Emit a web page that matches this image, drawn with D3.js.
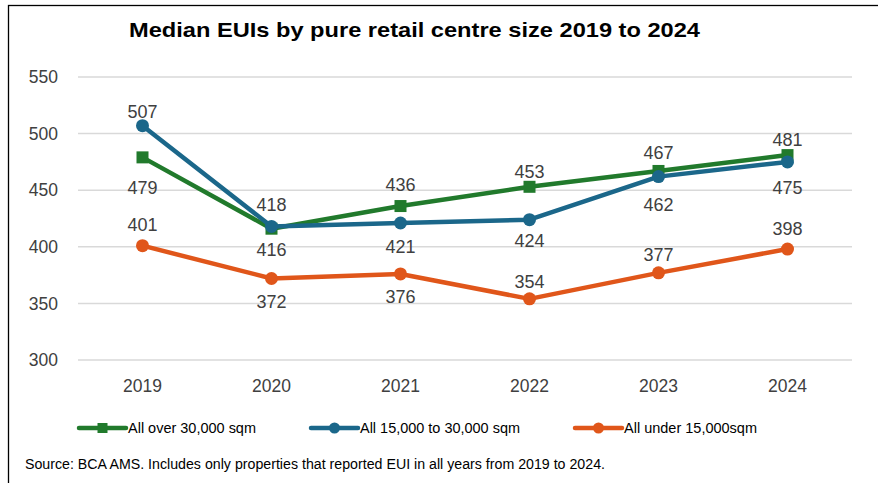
<!DOCTYPE html>
<html>
<head>
<meta charset="utf-8">
<script src="https://cdn.jsdelivr.net/npm/d3@7"></script>
<style>
  html, body { margin: 0; padding: 0; background: #fff; }
  svg { display: block; }
</style>
</head>
<body>
<svg id="chart" width="878" height="483"></svg>
<script>
// ---- data ----
const years = ["2019", "2020", "2021", "2022", "2023", "2024"];
const over30k = [479, 416, 436, 453, 467, 481];
const mid15to30k = [507, 418, 421, 424, 462, 475];
const under15k = [401, 372, 376, 354, 377, 398];
const seriesNames = ["All over 30,000 sqm", "All 15,000 to 30,000 sqm", "All under 15,000sqm"];
const yTicks = [300, 350, 400, 450, 500, 550];
const titleText = "Median EUIs by pure retail centre size 2019 to 2024";
const sourceText = "Source: BCA AMS.  Includes only properties that reported EUI in all years from 2019 to 2024.";

// ---- layout (label offsets: text centre relative to point, px) ----
const labelDy = [
  [30, 21, -21, -15, -18, -15],
  [-14, -22, 24, 21, 28, 26],
  [-21, 23, 23, -17, -18, -20]
];

const svg = d3.select("#chart");
const W = 878, H = 483;
const colors = ["#217a2c", "#1b678a", "#e0561a"];
const shapes = ["square", "circle", "circle"];
const series = [over30k, mid15to30k, under15k];

// frame
svg.append("rect").attr("x", 8.5).attr("y", 5.5).attr("width", W).attr("height", H)
  .attr("fill", "none").attr("stroke", "#000").attr("stroke-width", 1.3);

const x = d3.scaleBand().domain(years).range([78, 852]);
const y = d3.scaleLinear().domain([300, 550]).range([360, 77]);

// gridlines
svg.append("g").selectAll("line").data(yTicks).join("line")
  .attr("x1", 78).attr("x2", 852)
  .attr("y1", d => y(d)).attr("y2", d => y(d))
  .attr("stroke", "#d9d9d9").attr("stroke-width", 1.5);

// y axis
const yAxis = svg.append("g").attr("transform", "translate(60,0)")
  .call(d3.axisLeft(y).tickValues(yTicks).tickSize(0).tickPadding(2));
yAxis.select(".domain").remove();
yAxis.selectAll("text").attr("font-family", "Liberation Sans, Arial, sans-serif")
  .attr("font-size", 17.5).attr("fill", "#404040");

// x axis
const xAxis = svg.append("g").attr("transform", "translate(0,377)")
  .call(d3.axisBottom(x).tickSize(0).tickPadding(3));
xAxis.select(".domain").remove();
xAxis.selectAll("text").attr("font-family", "Liberation Sans, Arial, sans-serif")
  .attr("font-size", 17.5).attr("fill", "#404040");

// title
svg.append("text").attr("x", 129).attr("y", 37)
  .attr("font-family", "Liberation Sans Narrow, Liberation Sans, Arial, sans-serif")
  .attr("font-weight", "bold").attr("font-size", 21).attr("fill", "#000")
  .attr("textLength", 571).attr("lengthAdjust", "spacingAndGlyphs")
  .text(titleText);

const cx = d => x(d) + x.bandwidth() / 2;
const line = d3.line().x((d, i) => cx(years[i])).y(d => y(d));

function drawMarker(g, shape, color, px, py, size) {
  if (shape === "square") {
    g.append("rect").attr("x", px - size).attr("y", py - size)
      .attr("width", size * 2).attr("height", size * 2).attr("fill", color);
  } else {
    g.append("circle").attr("cx", px).attr("cy", py).attr("r", size + 0.5).attr("fill", color);
  }
}

series.forEach((vals, si) => {
  const g = svg.append("g");
  g.append("path").datum(vals).attr("d", line)
    .attr("fill", "none").attr("stroke", colors[si]).attr("stroke-width", 4.5)
    .attr("stroke-linejoin", "round").attr("stroke-linecap", "round");
  vals.forEach((v, i) => drawMarker(g, shapes[si], colors[si], cx(years[i]), y(v), 6));
});

// data labels
series.forEach((vals, si) => {
  svg.append("g").selectAll("text").data(vals).join("text")
    .attr("x", (d, i) => cx(years[i]))
    .attr("y", (d, i) => y(d) + labelDy[si][i])
    .attr("dy", "0.35em")
    .attr("text-anchor", "middle")
    .attr("font-family", "Liberation Sans, Arial, sans-serif")
    .attr("font-size", 18).attr("fill", "#404040")
    .text(d => d);
});

// legend
const legendX = [79, 311, 575];
const legendTextW = [128, 160, 133];
const ly = 428;
seriesNames.forEach((name, si) => {
  const g = svg.append("g");
  g.append("line").attr("x1", legendX[si]).attr("x2", legendX[si] + 47)
    .attr("y1", ly).attr("y2", ly)
    .attr("stroke", colors[si]).attr("stroke-width", 4.5).attr("stroke-linecap", "round");
  drawMarker(g, shapes[si], colors[si], legendX[si] + 23.5, ly, 5);
  g.append("text").attr("x", legendX[si] + 49).attr("y", ly).attr("dy", "0.35em")
    .attr("font-family", "Liberation Sans Narrow, Liberation Sans, Arial, sans-serif")
    .attr("font-size", 15).attr("fill", "#000")
    .attr("textLength", legendTextW[si]).attr("lengthAdjust", "spacingAndGlyphs")
    .text(name);
});

// source note
svg.append("text").attr("x", 25).attr("y", 464).attr("dy", "0.35em")
  .attr("font-family", "Liberation Sans Narrow, Liberation Sans, Arial, sans-serif")
  .attr("font-size", 14).attr("fill", "#000")
  .attr("textLength", 580).attr("lengthAdjust", "spacingAndGlyphs")
  .text(sourceText);
</script>
</body>
</html>
